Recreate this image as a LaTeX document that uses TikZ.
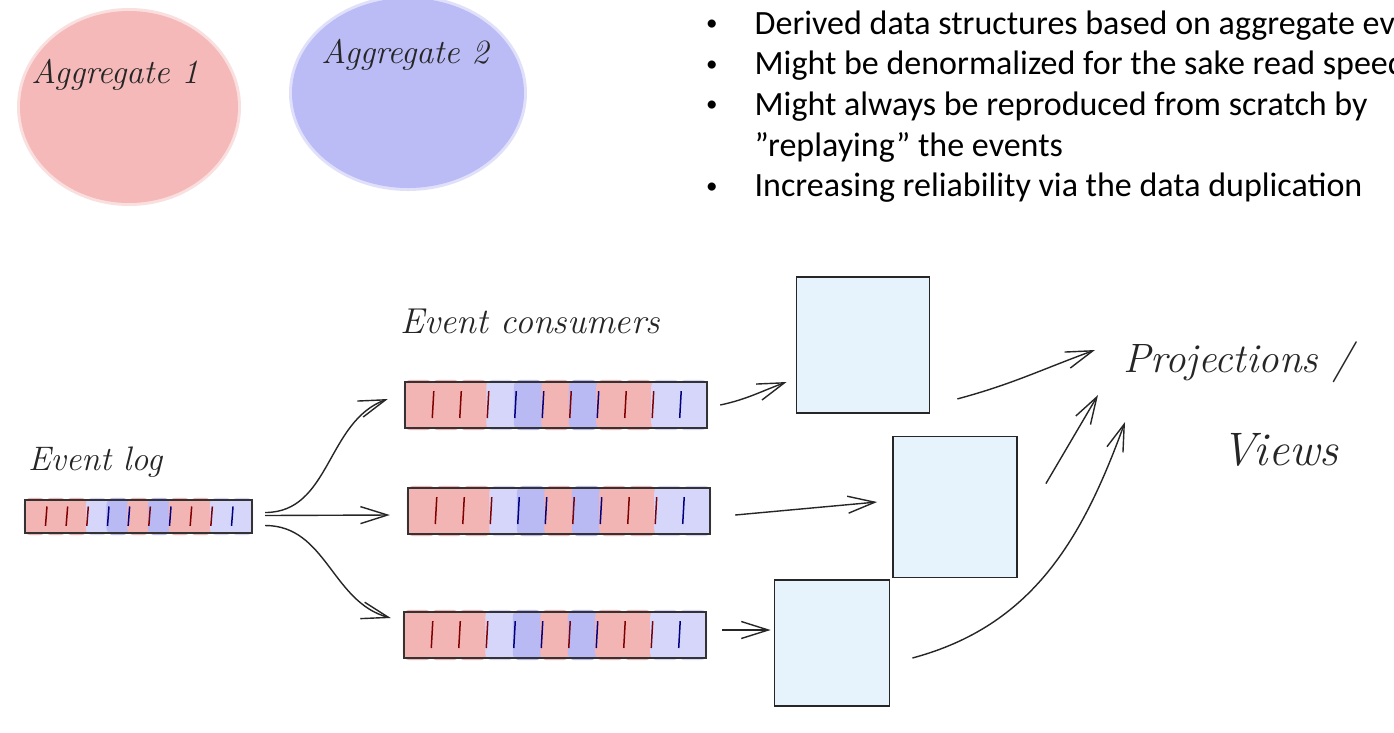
\documentclass[tikz,border=0pt]{standalone}
\usepackage{fontspec}
\newfontfamily\slidefont{Carlito}
\usetikzlibrary{arrows.meta,calc,positioning,shapes.geometric}

\definecolor{aggred}{RGB}{245,185,185}
\definecolor{aggblue}{RGB}{187,187,246}
\definecolor{cellred}{RGB}{243,180,180}
\definecolor{celllight}{RGB}{214,214,250}
\definecolor{cellblue}{RGB}{185,185,243}
\definecolor{projfill}{RGB}{230,242,252}

\tikzstyle{aggblob}=[ellipse,inner sep=0pt,minimum width=218pt,minimum height=192pt,
                     line width=6pt,draw opacity=.45]
\tikzstyle{hand}=[font=\itshape\fontsize{34}{38}\selectfont,inner sep=0pt,text=black!85]
\tikzstyle{eventbar}=[rectangle,inner sep=0pt,minimum width=302pt,minimum height=46pt]
\tikzstyle{barline}=[black!80,line width=1.8pt]
\tikzstyle{projbox}=[rectangle,draw=black!85,line width=1.8pt,fill=projfill,inner sep=0pt]
\tikzstyle{flow}=[->,line width=1.4pt,draw=black!85]

% coloured cells, separators and outline of an event bar
\newcommand\eventcells[1]{%
  \foreach \c [count=\i] in {cellred,cellred,cellred,celllight,cellblue,cellred,%
      cellblue,cellred,cellred,celllight,celllight}{
    \fill[\c,rounded corners=7pt] let \p1=(#1.south west), \p2=(#1.north east),
      \n1={(\x2-\x1)/11} in
      (\x1+\n1*\i-\n1-1pt,\y1-2pt) rectangle (\x1+\n1*\i+1pt,\y2+2pt);
  }
  \foreach \d [count=\i] in {red,red,red,blue,blue,red,blue,red,red,blue}{
    \draw[\d!50!black,line width=1.5pt] let \p1=(#1.south west), \p2=(#1.north east),
      \n1={(\x2-\x1)/11}, \n2={\y2-\y1} in
      (\x1+\n1*\i,\y1+0.22*\n2) -- (\x1+\n1*\i+1.5pt,\y2-0.2*\n2);
  }
  \draw[barline] (#1.south west) rectangle (#1.north east);
}
\newcommand\notedot{\raisebox{3.5pt}{\fontsize{23}{23}\selectfont\textbullet}}

\begin{document}
\begin{tikzpicture}[>={Straight Barb[length=27pt,width=17pt]},x=1pt,y=1pt]
  \useasboundingbox[fill=white] (0,0) rectangle (1394,-732);

  % aggregates
  \node[aggblob,fill=aggred,draw=aggred] (agg1) at (129,-107) {};
  \node[aggblob,fill=aggblue,draw=aggblue,minimum width=232pt,minimum height=190pt]
    (agg2) at (408,-93) {};
  \node[hand] (agg1txt) at (115,-75) {Aggregate 1};
  \node[hand] (agg2txt) at (405,-55) {Aggregate 2};

  % slide notes
  \node[anchor=base west,inner sep=0pt,font=\slidefont\fontsize{34}{40.7}\selectfont]
    (notes) at (706,-34) {%
    \begin{tabular}[t]{@{}l@{\hspace{37pt}}l@{}}
      \notedot & Derived data structures based on aggregate ev\\
      \notedot & Might be denormalized for the sake read speed\\
      \notedot & Might always be reproduced from scratch by\\
               & ”replaying” the events\\
      \notedot & Increasing reliability via the data duplication
    \end{tabular}};

  % event log
  \node[eventbar,minimum width=227pt,minimum height=33pt] (log) at (138.5,-516.5) {};
  \eventcells{log}
  \node[hand,anchor=base west] (logtxt) at (28,-470) {Event log};

  % consumers
  \node[eventbar] (cons1) at (556,-405) {};
  \eventcells{cons1}
  \node[eventbar] (cons2) at (559,-511) {};
  \eventcells{cons2}
  \node[eventbar] (cons3) at (555,-635) {};
  \eventcells{cons3}
  \node[hand,font=\itshape\fontsize{36}{40}\selectfont,anchor=base west] (constxt)
    at (400,-333) {Event consumers};

  % projections
  \node[projbox,minimum width=133pt,minimum height=136pt] (proj1) at (863,-345) {};
  \node[projbox,minimum width=124pt,minimum height=141pt] (proj2) at (955,-507) {};
  \node[projbox,minimum width=115pt,minimum height=126pt] (proj3) at (832,-643) {};
  \node[hand,font=\itshape\fontsize{41}{44}\selectfont,anchor=west] (projtxt)
    at (1123,-362) {Projections /};
  \node[hand,font=\itshape\fontsize{47}{50}\selectfont] (viewstxt)
    at (1280,-450) {Views};

  % log to consumers
  \draw[flow] ([xshift=13pt,yshift=4pt]log.east) to[out=0,in=200]
    ([xshift=-17pt,yshift=6pt]cons1.west);
  \draw[flow] ([xshift=13pt,yshift=1pt]log.east) --
    ([xshift=-18pt,yshift=-4pt]cons2.west);
  \draw[flow] ([xshift=13pt,yshift=-9pt]log.east) to[out=0,in=165]
    ([xshift=-13pt,yshift=17pt]cons3.west);

  % consumers to projections
  \draw[flow] ([xshift=13pt]cons1.east) to[out=12,in=200]
    ([xshift=-9pt,yshift=-37pt]proj1.west);
  \draw[flow] ([xshift=25pt,yshift=-4pt]cons2.east) --
    ([xshift=-15pt,yshift=5pt]proj2.west);
  \draw[flow] ([xshift=16pt,yshift=5pt]cons3.east) --
    ([xshift=-3pt,yshift=13pt]proj3.west);

  % projections to label
  \draw[flow] ([xshift=27pt,yshift=15pt]proj1.south east) to[out=15,in=200]
    ([xshift=-28pt,yshift=12pt]projtxt.west);
  \draw[flow] ([xshift=28pt,yshift=-48pt]proj2.north east) --
    ([xshift=-25pt,yshift=-33pt]projtxt.west);
  \draw[flow] ([xshift=22pt,yshift=-15pt]proj3.east) to[out=15,in=250]
    ([xshift=2pt,yshift=-60pt]projtxt.west);
\end{tikzpicture}
\end{document}
